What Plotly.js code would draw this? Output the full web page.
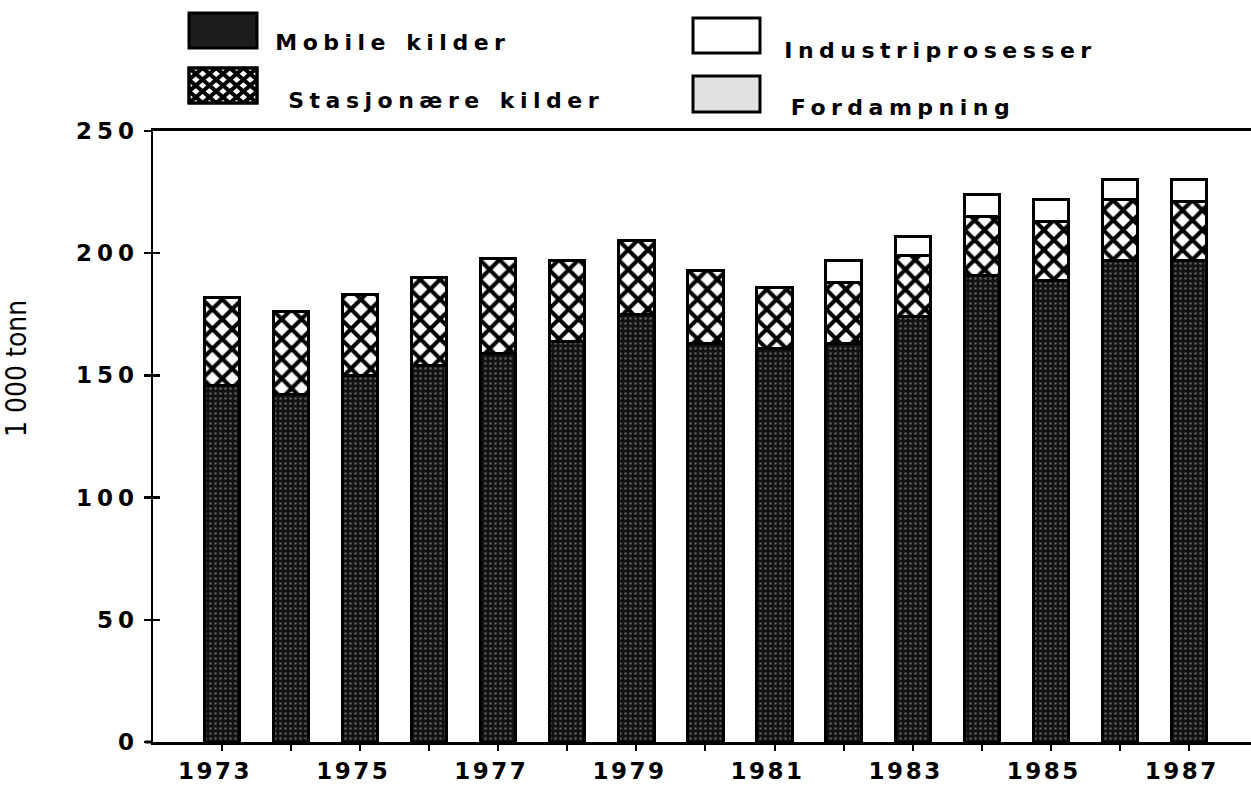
<!DOCTYPE html>
<html>
<head>
<meta charset="utf-8">
<script src="https://cdn.plot.ly/plotly-3.0.1.min.js"></script>
<style>
  html, body { margin: 0; padding: 0; background: #fff; }
  #chart { width: 1251px; height: 786px; }
  .xtick text { letter-spacing: 2.5px; }
  .ytick text { letter-spacing: 5px; }
  g.annotation text { letter-spacing: 5.5px; word-spacing: 2px; }
  g.annotation[data-index="0"] text { letter-spacing: 0px; word-spacing: 0px; }
</style>
</head>
<body>
<div id="chart"></div>
<script>
// ---- data (1 000 tonn) ----
const years = [1973,1974,1975,1976,1977,1978,1979,1980,1981,1982,1983,1984,1985,1986,1987];
const mobileKilder      = [146,142,150,154,159,164,175,163,161,163,174,191,189,197,197];
const stasjonaereKilder = [36, 34, 33, 36, 39, 33, 30, 30, 25, 25, 25, 24, 24, 25, 24];
const industriprosesser = [0,  0,  0,  0,  0,  0,  0,  0,  0,  9,  8,  9,  9,  8,  9];
const fordampning       = [0,  0,  0,  0,  0,  0,  0,  0,  0,  0,  0,  0,  0,  0,  0];
const xTickLabels = ["1973","","1975","","1977","","1979","","1981","","1983","","1985","","1987"];
const yTickVals = [0,50,100,150,200,250];
const seriesNames = ["Mobile kilder","Stasjonære kilder","Industriprosesser","Fordampning"];
const yAxisTitle = "1 000 tonn";

// ---- layout geometry ----
const W = 1251, H = 786;
const M = {l:153, r:0, t:131, b:44};
const PW = W - M.l - M.r, PH = H - M.t - M.b;
const px2x = p => (p - M.l) / PW;
const px2y = p => (H - M.b - p) / PH;

const FONT = "DejaVu Sans, Verdana, sans-serif";
const BW = 0.51;
const outline = {color:'#000', width:3};

const traces = [
  {type:'bar', x:years, y:mobileKilder, name:seriesNames[0], width:BW,
   marker:{color:'#1a1a1a', line:outline,
     pattern:{shape:'.', fgcolor:'#5c5c5c', bgcolor:'#121212', size:5, solidity:0.2}}},
  {type:'bar', x:years, y:stasjonaereKilder, name:seriesNames[1], width:BW,
   marker:{color:'#ffffff', line:outline,
     pattern:{shape:'x', fgcolor:'#000', bgcolor:'#fff', size:14, solidity:0.5}}},
  {type:'bar', x:years, y:industriprosesser, name:seriesNames[2], width:BW,
   marker:{color:'#ffffff', line:outline}},
  {type:'bar', x:years, y:fordampning, name:seriesNames[3], width:BW,
   marker:{color:'#ffffff', line:outline,
     pattern:{shape:'.', fgcolor:'#999', bgcolor:'#fff', size:4, solidity:0.2}}},
  // invisible trace to carry inside y ticks
  {type:'scatter', x:[years[0]], y:[0], yaxis:'y2', mode:'markers',
   marker:{opacity:0}, hoverinfo:'skip', showlegend:false}
];

// ---- legend swatches (shapes) ----
const shapes = [];
function rectPx(x0,y0,x1,y1,fill){
  shapes.push({type:'rect', xref:'paper', yref:'paper',
    x0:px2x(x0), x1:px2x(x1), y0:px2y(y1), y1:px2y(y0),
    fillcolor:fill, line:{color:'#000', width:3}, layer:'above'});
}
function hatchPx(x0,y0,x1,y1,nc,nr){
  const cw=(x1-x0)/nc, ch=(y1-y0)/nr;
  let d='';
  for(let t=-nr; t<=nc; t++){
    const va=Math.max(0,-t), vb=Math.min(nr,nc-t);
    if(vb>va){
      const ax=x0+(t+va)*cw, ay=y0+va*ch, bx=x0+(t+vb)*cw, by=y0+vb*ch;
      d+=`M${px2x(ax)},${px2y(ay)}L${px2x(bx)},${px2y(by)}`;
    }
  }
  for(let t=0; t<=nc+nr; t++){
    const va=Math.max(0,t-nc), vb=Math.min(nr,t);
    if(vb>va){
      const ax=x0+(t-va)*cw, ay=y0+va*ch, bx=x0+(t-vb)*cw, by=y0+vb*ch;
      d+=`M${px2x(ax)},${px2y(ay)}L${px2x(bx)},${px2y(by)}`;
    }
  }
  shapes.push({type:'path', xref:'paper', yref:'paper', path:d,
    line:{color:'#000', width:4}, layer:'above'});
}
rectPx(189,13,257,48,'#1c1c1c');
rectPx(189,68,257,103,'#ffffff');
hatchPx(189,68,257,103,5,3);
rectPx(189,68,257,103,'rgba(0,0,0,0)');
rectPx(693,18,760,53,'#ffffff');
rectPx(693,76,760,112,'#e2e2e2');
// bottom axis line overhang left of the y axis
shapes.push({type:'line', xref:'paper', yref:'paper', x0:px2x(145), x1:0, y0:0, y1:0,
  line:{color:'#000', width:3}});

// legend labels: centre of each text span (px)
const legendText = [
  {t:seriesNames[0], x:393, y:43},
  {t:seriesNames[1], x:446, y:100},
  {t:seriesNames[2], x:941, y:50},
  {t:seriesNames[3], x:903, y:107}
];
const annotations = [
  {text:yAxisTitle, xref:'paper', yref:'paper', x:px2x(16), y:px2y(369),
   textangle:-90, showarrow:false, xanchor:'center', yanchor:'middle',
   font:{family:"Liberation Sans Narrow, DejaVu Sans Condensed, Arial Narrow, sans-serif", size:28, color:'#000'}}
];
legendText.forEach(l => annotations.push({
  text:l.t, xref:'paper', yref:'paper', x:px2x(l.x), y:px2y(l.y),
  xanchor:'center', yanchor:'middle', showarrow:false,
  font:{family:FONT, size:22, weight:'bold', color:'#000'}
}));

const layout = {
  width:W, height:H, margin:M, barmode:'stack', bargap:0,
  paper_bgcolor:'#fff', plot_bgcolor:'#fff', showlegend:false,
  font:{family:FONT, color:'#000'},
  xaxis:{range:[1972,1987.9], tickmode:'array', tickvals:years, ticktext:xTickLabels,
    ticks:'outside', ticklen:6, tickwidth:2, tickcolor:'#000', ticklabelshift:-7,
    showline:true, linewidth:3, linecolor:'#000', mirror:true,
    showgrid:false, zeroline:false, tickfont:{size:23, family:FONT, weight:'bold'}},
  yaxis:{range:[0,250], tickvals:yTickVals, ticks:'outside', ticklen:7, tickwidth:2.5,
    tickcolor:'#000', showline:true, linewidth:2.5, linecolor:'#000',
    showgrid:false, zeroline:false, tickfont:{size:23, family:FONT, weight:'bold'}},
  yaxis2:{range:[0,250], overlaying:'y', side:'left', tickvals:yTickVals,
    ticks:'inside', ticklen:7, tickwidth:2.5, tickcolor:'#000',
    showticklabels:false, showline:false, showgrid:false, zeroline:false},
  shapes:shapes, annotations:annotations
};

Plotly.newPlot('chart', traces, layout, {displayModeBar:false, staticPlot:true});
</script>
</body>
</html>
